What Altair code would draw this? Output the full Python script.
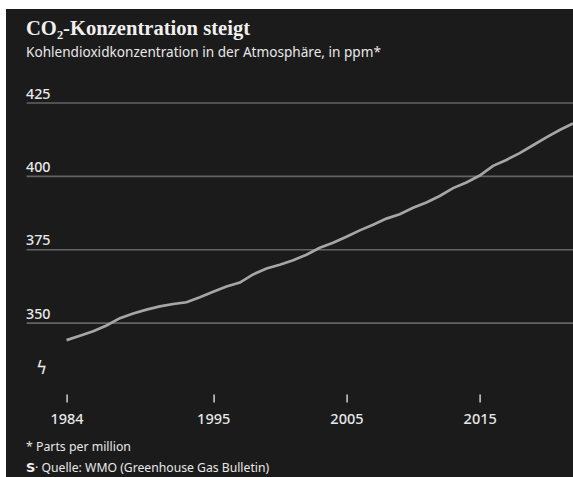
import altair as alt
import pandas as pd

years = list(range(1984, 2023))
co2 = [344.2, 345.7, 347.2, 349.2, 351.7, 353.3, 354.6, 355.7, 356.5, 357.1,
       358.8, 360.7, 362.5, 363.8, 366.6, 368.6, 369.9, 371.4, 373.3, 375.7,
       377.4, 379.4, 381.6, 383.5, 385.6, 387.1, 389.3, 391.1, 393.3, 396.0,
       397.9, 400.3, 403.6, 405.6, 407.9, 410.6, 413.3, 415.8, 418.0]
y_ticks = [350, 375, 400, 425]
x_ticks = [1984, 1995, 2005, 2015]

title = "CO\u2082-Konzentration steigt"
subtitle = "Kohlendioxidkonzentration in der Atmosphäre, in ppm*"
footnote = "* Parts per million"
source = "\u00b7 Quelle: WMO (Greenhouse Gas Bulletin)"

df = pd.DataFrame({"year": years, "co2": co2})
grid_df = pd.DataFrame({"v": y_ticks})

BG = "#1c1b1b"
TXT = "#e8e8e8"
FONT = "Noto Sans"

L, T = 26.6, 94.2
W = 573 - L
H = 381.8 - T
B = 477 - T - H

xs = alt.Scale(domain=[1981, 2022], nice=False, zero=False)
ys = alt.Scale(domain=[330, 428], nice=False, zero=False)

bg = alt.Chart(pd.DataFrame({"a": ["bg"]})).mark_rect(color=BG).encode(
    x=alt.value(-L + 6), x2=alt.value(W + 2),
    y=alt.value(-T + 9), y2=alt.value(H + B + 2),
    detail="a:N",
)

grid = alt.Chart(grid_df).mark_rule(color="#656263", strokeWidth=1.6).encode(
    y=alt.Y("v:Q", scale=ys, axis=None),
    x=alt.value(0), x2=alt.value(W),
)

ylab = alt.Chart(grid_df).mark_text(
    align="left", baseline="alphabetic", dy=-4.5, color=TXT,
    font=FONT, fontSize=14.3, fontWeight=500,
).encode(y=alt.Y("v:Q", scale=ys, axis=None), x=alt.value(-0.6), text="v:Q")

line = alt.Chart(df).mark_line(color="#a6a6a6", strokeWidth=2.7).encode(
    x=alt.X("year:Q", scale=xs,
            axis=alt.Axis(values=x_ticks, format="d", title=None, domain=False,
                          grid=False, ticks=True, tickSize=8, tickColor="#d0d0d0",
                          tickWidth=1.5, offset=12.2, labelPadding=10,
                          labelColor=TXT, labelFont=FONT, labelFontSize=14.5,
                          labelFontWeight=500, zindex=1)),
    y=alt.Y("co2:Q", scale=ys, axis=None),
)

def txt(s, x, y, size, weight="normal", font=FONT, color=TXT):
    return alt.Chart(pd.DataFrame({"t": [s]})).mark_text(
        align="left", baseline="alphabetic", font=font, fontSize=size,
        fontWeight=weight, color=color,
    ).encode(text="t:N", x=alt.value(x), y=alt.value(y))

t1 = txt(title, -0.6, -59.2, 20.6, "bold", "Liberation Serif", "#f0f0f0")
t2 = txt(subtitle, -0.6, -36.9, 13.6)
brk = txt("\u03df", 9.5, 280.0, 17, "normal", "DejaVu Sans")
f1 = txt(footnote, -0.6, 356.8, 12.3)
s_logo = txt("S", -0.6, 377.8, 13, "bold", "DejaVu Sans", "#f0f0f0")
f2 = txt(source, 8.5, 377.8, 12.2)

chart = alt.layer(bg, grid, ylab, line, t1, t2, brk, f1, s_logo, f2).properties(
    width=W, height=H,
    autosize=alt.AutoSizeParams(type="none"),
    padding={"left": L, "top": T, "right": 0, "bottom": B},
    background="#ffffff",
).configure_view(strokeWidth=0)

chart.save("out.html", embed_options={"renderer": "svg", "actions": False})
